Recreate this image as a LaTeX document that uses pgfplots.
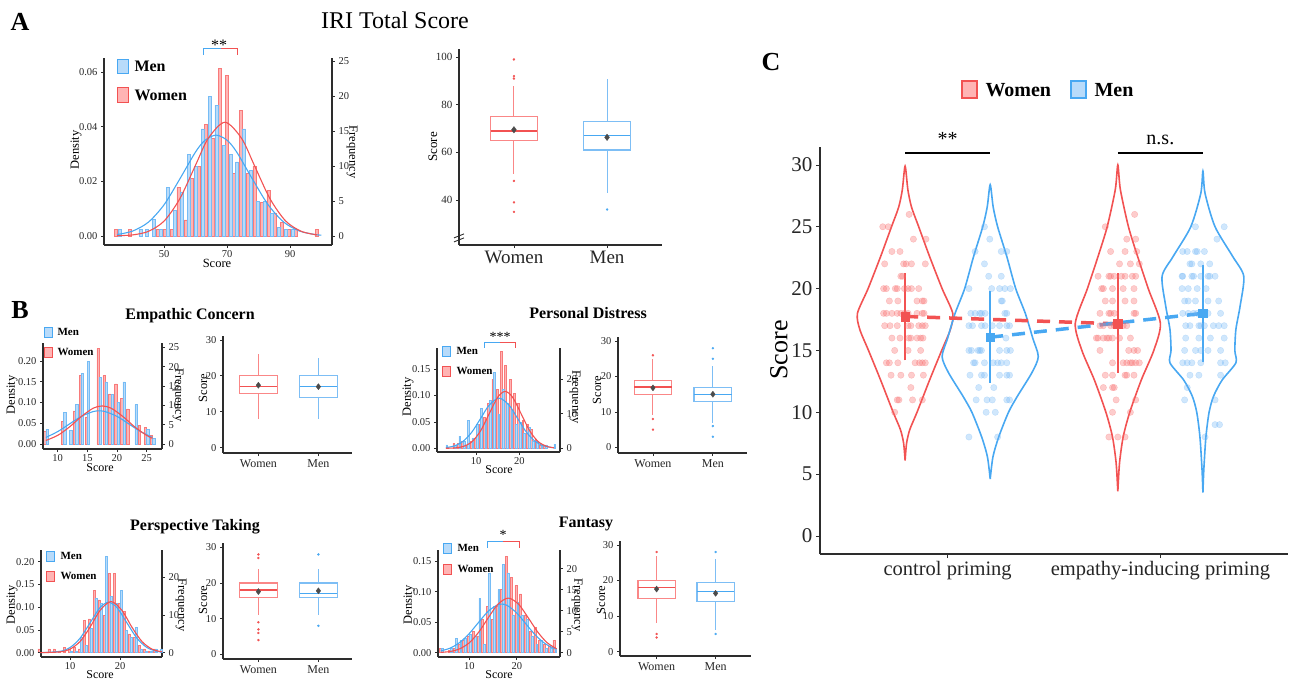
\documentclass[border=0pt]{standalone}
\usepackage{fontspec}
\setmainfont{Liberation Serif}
\usepackage{pgfplots}
\pgfplotsset{compat=1.18}

\definecolor{redL}{RGB}{242,82,82}
\definecolor{bluL}{RGB}{72,168,242}
\definecolor{redF}{RGB}{255,180,180}
\definecolor{bluF}{RGB}{184,219,250}
\definecolor{redE}{RGB}{248,122,122}
\definecolor{bluE}{RGB}{118,188,245}
\definecolor{redB}{RGB}{250,135,135}
\definecolor{bluB}{RGB}{125,190,245}
\definecolor{redD}{RGB}{248,110,110}
\definecolor{bluD}{RGB}{110,180,245}
\definecolor{axgray}{RGB}{45,45,45}
\definecolor{meangray}{RGB}{75,75,75}

\newcommand\fs[1]{\fontsize{#1}{#1}\selectfont}

\pgfplotsset{
  base/.style={scale only axis, anchor=south west, clip=false,
    axis line style={line width=1.1pt, draw=axgray},
    tick style={line width=0.8pt, draw=axgray},
    tick align=outside, major tick length=3pt,
    /pgf/number format/assume math mode=true, scaled ticks=false,
    tick label style={text=black!85}},
  histR/.style={base, axis x line=none, axis y line*=right, xtick=\empty,
    tick label style={font=\fs{10.5}}},
  histL/.style={base, axis x line*=bottom, axis y line*=left,
    tick label style={font=\fs{10.5}},
    xticklabel style={yshift=1pt},
    yticklabel style={/pgf/number format/.cd, fixed, fixed zerofill, precision=2}},
  boxax/.style={base, axis x line*=bottom, axis y line*=left,
    xtick={1,2}, xticklabels={Women,Men}},
  rbar/.style={ybar, bar shift=0pt, fill=redF, draw=redE, line width=0.5pt},
  bbar/.style={ybar, bar shift=0pt, fill=bluF, draw=bluE, line width=0.5pt},
  rcur/.style={redL, line width=1.1pt, smooth, no marks},
  bcur/.style={bluL, line width=1.1pt, smooth, no marks},
  rbox/.style={redB, line width=1.1pt, no marks, line join=miter},
  bbox/.style={bluB, line width=1.1pt, no marks, line join=miter},
  rmed/.style={redL, line width=1.4pt, no marks},
  bmed/.style={bluL, line width=1.4pt, no marks},
  rout/.style={only marks, redL, mark=*, mark size=1pt, mark options={draw=redL, fill=redL}},
  bout/.style={only marks, bluL, mark=*, mark size=1pt, mark options={draw=bluL, fill=bluL}},
  meanpt/.style={only marks, meangray, mark=diamond*, mark size=3.2pt, mark options={draw=meangray, fill=meangray}},
}

% box: #1 r/b, #2 left, #3 centre, #4 right, #5 lower whisker, #6 Q1, #7 median, #8 Q3, #9 upper whisker
\newcommand\bxp[9]{%
  \addplot[#1box] coordinates {(#2,#6) (#4,#6) (#4,#8) (#2,#8) (#2,#6) (#4,#6)};
  \addplot[#1box] coordinates {(#3,#8) (#3,#9)};
  \addplot[#1box] coordinates {(#3,#6) (#3,#5)};
  \addplot[#1med] coordinates {(#2,#7) (#4,#7)};
}

\begin{document}
\begin{tikzpicture}

% ================= A : histogram
\begin{axis}[histR, at={(104pt,-245pt)}, width=228pt, height=187pt,
  xmin=30.86, xmax=103.35, ymin=-1.286, ymax=25.43, ytick={0,5,10,15,20,25}]
\addplot[rbar, bar width=0.95] coordinates {(34.7,1) (39.1,1) (47.9,1) (50.1,1) (52.3,1) (54.5,7) (56.7,2.3) (58.9,8.2) (61.1,10) (63.3,16) (65.5,14) (67.7,24) (69.9,23) (72.1,9) (74.3,18) (76.5,9) (78.7,10) (80.9,4.8) (83.1,6.5) (85.3,3.2) (87.5,2) (89.7,1) (91.9,1) (98.5,1)};
\addplot[bbar, bar width=0.95] coordinates {(35.8,1) (42.4,1) (44.6,1) (46.8,2.4) (49.0,1) (51.2,7) (53.4,3.7) (55.6,6.3) (57.8,11.7) (60.0,10) (62.2,15.3) (64.4,20) (66.6,18.7) (68.8,13) (71.0,11.7) (73.2,10.6) (75.4,15.3) (77.6,9.4) (79.8,5) (82.0,5) (84.2,3.2) (86.4,1.2) (88.6,1) (90.8,1)};
\end{axis}
\begin{axis}[histL, at={(104pt,-245pt)}, width=228pt, height=187pt,
  xmin=30.86, xmax=103.35, ymin=-0.0033, ymax=0.0651,
  xtick={50,70,90}, ytick={0,0.02,0.04,0.06}]
\addplot[bcur] coordinates {(35,0.00052) (40,0.00182) (45,0.00508) (50,0.01149) (55,0.02093) (60,0.03079) (63,0.03501) (66.5,0.0369) (70,0.03501) (73,0.03079) (78,0.02093) (83,0.01149) (88,0.00508) (93,0.00182) (98,0.00052) (100,0.0003)};
\addplot[rcur] coordinates {(35,0.0001) (40,0.0004) (45,0.0017) (50,0.0055) (55,0.0137) (60,0.0260) (64,0.0357) (69.3,0.0416) (74.6,0.0357) (78.6,0.0260) (83.6,0.0137) (88.6,0.0055) (93.6,0.0017) (98.6,0.0004)};
\draw[bluL, line width=1pt] (axis cs:67.9,0.0684) -- (axis cs:62.5,0.0684) -- (axis cs:62.5,0.0662);
\draw[redL, line width=1pt] (axis cs:67.9,0.0684) -- (axis cs:73.3,0.0684) -- (axis cs:73.3,0.0662);
\end{axis}

% ================= A : boxplot
\begin{axis}[boxax, at={(459pt,-245pt)}, width=203pt, height=196pt,
  xmin=0.41, xmax=2.59, ymin=21.1, ymax=103.4, ytick={40,60,80,100},
  y tick label style={font=\fs{11}}, x tick label style={font=\fs{19}}]
\bxp{r}{0.75}{1}{1.25}{51}{65}{69}{75}{88}
\addplot[rout] coordinates {(1,91) (1,92) (1,99) (1,48) (1,39) (1,35)};
\bxp{b}{1.75}{2}{2.25}{43}{61}{67}{73}{91}
\addplot[bout] coordinates {(2,36)};
\addplot[meanpt] coordinates {(1,69.5) (2,66.3)};
\draw[axgray, line width=0.9pt] ([xshift=-5pt,yshift=-5pt]axis cs:0.41,24.5) -- ([xshift=5pt,yshift=-1pt]axis cs:0.41,24.5);
\draw[axgray, line width=0.9pt] ([xshift=-5pt,yshift=-1pt]axis cs:0.41,24.5) -- ([xshift=5pt,yshift=3pt]axis cs:0.41,24.5);
\end{axis}

% ================= B1 : Empathic Concern
\begin{axis}[histR, at={(43pt,-449pt)}, width=119pt, height=106pt,
  xmin=7.52, xmax=27.6, ymin=-1.295, ymax=26.17, ytick={0,5,10,15,20,25}]
\addplot[rbar, bar width=0.38] coordinates {(7.8,3.2) (10.8,5.9) (12.8,8.6) (13.8,17.7) (14.8,7) (16.8,24.7) (17.8,17.7) (18.8,13) (19.8,15.6) (20.8,11.8) (21.8,9.1) (23.8,4.8) (24.8,4.3) (25.8,2.2)};
\addplot[bbar, bar width=0.38] coordinates {(8.2,3.8) (11.2,8.1) (12.2,3.5) (13.2,10.2) (14.2,18.3) (15.2,21.5) (17.2,17.2) (18.2,16.1) (19.2,12.9) (20.2,10.75) (21.2,16.1) (23.2,10.2) (25.2,3.8) (26.2,1.5)};
\end{axis}
\begin{axis}[histL, at={(43pt,-449pt)}, width=119pt, height=106pt,
  xmin=7.52, xmax=27.6, ymin=-0.01205, ymax=0.2434,
  xtick={10,15,20,25}, ytick={0,0.05,0.10,0.15,0.20}]
\addplot[bcur] coordinates {(8,0.0158) (10,0.0299) (12,0.0484) (14,0.0667) (16,0.0782) (17,0.0798) (18,0.0782) (20,0.0667) (22,0.0484) (24,0.0299) (26,0.0158)};
\addplot[rcur] coordinates {(8,0.0085) (10,0.0208) (12,0.0412) (14,0.0663) (16,0.0864) (17.5,0.0917) (19,0.0864) (21,0.0663) (23,0.0412) (25,0.0208) (26,0.0136)};
\end{axis}
\begin{axis}[boxax, at={(223pt,-453pt)}, width=129pt, height=117pt,
  xmin=0.41, xmax=2.56, ymin=-1.48, ymax=31.1, ytick={0,10,20,30},
  y tick label style={font=\fs{10.5}}, x tick label style={font=\fs{12}}]
\bxp{r}{0.685}{1}{1.315}{8}{15}{17}{20}{26}
\bxp{b}{1.685}{2}{2.315}{8}{14}{17}{20}{25}
\addplot[meanpt, mark size=3pt] coordinates {(1,17.4) (2,17.0)};
\end{axis}

% ================= B2 : Personal Distress
\begin{axis}[histR, at={(437pt,-452pt)}, width=123pt, height=104pt,
  xmin=0.92, xmax=29.4, ymin=-1.07, ymax=29.07, ytick={0,10,20}]
\addplot[rbar, bar width=0.4] coordinates {(4.8,1.5) (5.8,1.5) (6.8,2) (7.8,1) (8.8,2) (9.8,3) (10.8,7) (11.8,9) (12.8,13) (13.8,20) (14.8,17) (15.8,28) (16.8,24) (17.8,20) (18.8,16) (19.8,13) (20.8,8) (21.8,7) (22.8,5.5) (23.8,2.5) (24.8,1) (25.8,1)};
\addplot[bbar, bar width=0.4] coordinates {(3.2,1) (5.2,1) (6.2,3.5) (7.2,2) (8.2,8) (9.2,3) (10.2,7) (11.2,11.5) (12.2,8) (13.2,14) (14.2,22) (15.2,10) (16.2,17) (17.2,13) (18.2,11) (19.2,7) (20.2,7.5) (21.2,4.5) (22.2,6) (23.2,2) (24.2,2) (25.2,1) (26.2,1) (28.2,1.2)};
\end{axis}
\begin{axis}[histL, at={(437pt,-452pt)}, width=123pt, height=104pt,
  xmin=0.92, xmax=29.4, ymin=-0.007, ymax=0.19,
  xtick={10,20}, ytick={0,0.05,0.10,0.15}]
\addplot[bcur] coordinates {(3,0.0013) (5,0.0047) (7,0.0135) (9,0.0308) (11,0.0563) (13,0.0818) (15.3,0.095) (17.6,0.0818) (19.6,0.0563) (21.6,0.0308) (23.6,0.0135) (25.6,0.0047) (28,0.001)};
\addplot[rcur] coordinates {(3,0.0001) (5,0.0007) (7,0.0035) (9,0.0124) (11,0.0329) (13,0.0654) (15,0.097) (16.7,0.1078) (18.4,0.097) (20.4,0.0654) (22.4,0.0329) (24.4,0.0124) (26.4,0.0035) (28,0.001)};
\draw[bluL, line width=1pt] (axis cs:15.4,0.2007) -- (axis cs:11.85,0.2007) -- (axis cs:11.85,0.19);
\draw[redL, line width=1pt] (axis cs:15.4,0.2007) -- (axis cs:19.0,0.2007) -- (axis cs:19.0,0.19);
\end{axis}
\begin{axis}[boxax, at={(618pt,-453pt)}, width=129pt, height=116pt,
  xmin=0.417, xmax=2.57, ymin=-1.6, ymax=31.16, ytick={0,10,20,30},
  y tick label style={font=\fs{10.5}}, x tick label style={font=\fs{12}}]
\bxp{r}{0.685}{1}{1.315}{9}{15}{17}{19}{25}
\addplot[rout] coordinates {(1,26) (1,8) (1,5)};
\bxp{b}{1.685}{2}{2.315}{7}{13}{15}{17}{23}
\addplot[bout] coordinates {(2,25) (2,28) (2,6) (2,3)};
\addplot[meanpt, mark size=3pt] coordinates {(1,16.8) (2,15.0)};
\end{axis}

% ================= B3 : Perspective Taking
\begin{axis}[histR, at={(41pt,-657pt)}, width=121pt, height=107pt,
  xmin=4.2, xmax=28.4, ymin=-1.14, ymax=27.24, ytick={0,10,20}]
\addplot[rbar, bar width=0.4] coordinates {(3.8,1) (5.8,1) (6.8,1) (7.8,0.5) (8.8,1.5) (9.8,1) (10.8,1.5) (11.8,1) (12.8,8.5) (13.8,9) (14.8,16.5) (15.8,14) (16.8,10) (17.8,21) (18.8,21) (19.8,13) (20.8,11) (21.8,5) (22.8,4) (23.8,2) (24.8,1) (25.8,0.5) (26.8,1)};
\addplot[bbar, bar width=0.4] coordinates {(10.2,0.5) (11.2,0.5) (12.2,4) (13.2,2) (14.2,6.5) (15.2,14.5) (16.2,13) (17.2,25.5) (18.2,15) (19.2,13) (20.2,16.5) (21.2,6) (22.2,4) (23.2,6.7) (24.2,1) (25.2,0.5) (26.2,0.5) (27.2,1) (28.2,1)};
\end{axis}
\begin{axis}[histL, at={(41pt,-657pt)}, width=121pt, height=107pt,
  xmin=4.2, xmax=28.4, ymin=-0.0095, ymax=0.2257,
  xtick={10,20}, ytick={0,0.05,0.10,0.15,0.20}]
\addplot[bcur] coordinates {(4,0.0001) (8,0.0029) (10,0.0112) (12,0.0316) (14,0.0653) (16,0.0991) (17.7,0.1108) (19.4,0.0991) (21.4,0.0653) (23.4,0.0316) (25.4,0.0112) (27.4,0.0029) (28.5,0.0012)};
\addplot[rcur] coordinates {(4,0.0000) (8,0.0018) (10,0.0078) (12,0.0245) (14,0.0558) (16,0.0928) (18.2,0.1124) (20.4,0.0928) (22.4,0.0558) (24.4,0.0245) (26.4,0.0078) (28.4,0.0018)};
\end{axis}
\begin{axis}[boxax, at={(223pt,-659pt)}, width=129pt, height=116pt,
  xmin=0.41, xmax=2.56, ymin=-1.3, ymax=31.2, ytick={0,10,20,30},
  y tick label style={font=\fs{10.5}}, x tick label style={font=\fs{12}}]
\bxp{r}{0.685}{1}{1.315}{11}{16}{18}{20}{24}
\addplot[rout] coordinates {(1,27) (1,28) (1,9) (1,7) (1,6) (1,4)};
\bxp{b}{1.685}{2}{2.315}{11}{16}{17}{20}{24}
\addplot[bout] coordinates {(2,28) (2,8)};
\addplot[meanpt, mark size=3pt] coordinates {(1,17.6) (2,17.8)};
\end{axis}

% ================= B4 : Fantasy
\begin{axis}[histR, at={(438pt,-657pt)}, width=122pt, height=107pt,
  xmin=3.4, xmax=29.1, ymin=-1.02, ymax=24.45, ytick={0,5,10,15,20}]
\addplot[rbar, bar width=0.4] coordinates {(3.8,1) (5.8,0.5) (6.8,1) (7.8,2) (8.8,3) (9.8,4) (10.8,5) (11.8,4) (12.8,8) (13.8,11) (14.8,8) (15.8,11) (16.8,15) (17.8,23) (18.8,18) (19.8,16) (20.8,14) (21.8,9) (22.8,5) (23.8,6) (24.8,3) (25.8,2) (26.8,1.5) (27.8,3)};
\addplot[bbar, bar width=0.4] coordinates {(4.2,1) (6.2,1) (7.2,3.5) (8.2,3) (9.2,3.5) (10.2,4.5) (11.2,4) (12.2,13) (13.2,2) (14.2,19) (15.2,11) (16.2,15) (17.2,21) (18.2,19) (19.2,9) (20.2,12) (21.2,9) (22.2,8) (23.2,4) (24.2,2) (25.2,3) (26.2,1) (27.2,1) (28.2,1)};
\end{axis}
\begin{axis}[histL, at={(438pt,-657pt)}, width=122pt, height=107pt,
  xmin=3.4, xmax=29.1, ymin=-0.007, ymax=0.1684,
  xtick={10,20}, ytick={0,0.05,0.10,0.15}]
\addplot[bcur] coordinates {(4,0.0030) (6,0.0077) (8,0.0170) (10,0.0316) (12,0.0503) (14,0.0682) (16,0.0788) (16.8,0.0798) (18,0.0775) (20,0.0650) (22,0.0465) (24,0.0283) (26,0.0147) (28,0.0065)};
\addplot[rcur] coordinates {(4,0.0006) (6,0.0021) (8,0.0065) (10,0.0164) (12,0.0340) (14,0.0574) (16,0.0793) (18.2,0.0896) (20.4,0.0793) (22.4,0.0574) (24.4,0.0340) (26.4,0.0164) (28.4,0.0065)};
\draw[bluL, line width=1pt] (axis cs:17.15,0.183) -- (axis cs:13.8,0.183) -- (axis cs:13.8,0.172);
\draw[redL, line width=1pt] (axis cs:17.15,0.183) -- (axis cs:20.5,0.183) -- (axis cs:20.5,0.172);
\end{axis}
\begin{axis}[boxax, at={(620pt,-656pt)}, width=131pt, height=115pt,
  xmin=0.38, xmax=2.6, ymin=-1.2, ymax=31.1, ytick={0,10,20,30},
  y tick label style={font=\fs{10.5}}, x tick label style={font=\fs{12}}]
\bxp{r}{0.685}{1}{1.315}{8}{15}{18}{20}{27}
\addplot[rout] coordinates {(1,28) (1,5) (1,4)};
\bxp{b}{1.685}{2}{2.315}{6}{14}{17}{19.5}{26}
\addplot[bout] coordinates {(2,28) (2,5)};
\addplot[meanpt, mark size=3pt] coordinates {(1,17.6) (2,16.4)};
\end{axis}

% ================= C : violins
\begin{axis}[base, at={(820pt,-554pt)}, width=468pt, height=407pt,
  xmin=0.4, xmax=2.6, ymin=-1.46, ymax=31.45,
  axis x line*=bottom, axis y line*=left, axis line style={line width=1.4pt},
  major tick length=4pt, xtick={1,2},
  xticklabels={control priming, empathy-inducing priming}, ytick={0,5,10,15,20,25,30},
  x tick label style={font=\fs{20.5}}, y tick label style={font=\fs{21}}]
% jittered points
\addplot[only marks, redD, opacity=0.35, mark=*, mark size=3.2pt, mark options={draw=redD, fill=redD}] coordinates {(0.819,26) (0.695,25) (0.721,25) (0.839,24) (0.898,24) (0.738,23) (0.776,23) (0.704,22) (0.793,22) (0.805,22) (0.830,22) (0.895,22) (0.780,21) (0.788,21) (0.699,20) (0.712,20) (0.754,20) (0.763,20) (0.797,20) (0.814,20) (0.830,20) (0.864,20) (0.726,19) (0.766,19) (0.856,19) (0.881,19) (0.889,19) (0.699,18) (0.712,18) (0.738,18) (0.763,18) (0.780,18) (0.797,18) (0.814,18) (0.856,18) (0.881,18) (0.889,18) (0.704,17) (0.729,17) (0.763,17) (0.814,17) (0.827,17) (0.864,17) (0.881,17) (0.895,17) (0.738,16) (0.776,16) (0.817,16) (0.827,16) (0.856,16) (0.873,16) (0.884,16) (0.751,15) (0.814,15) (0.873,15) (0.712,14) (0.726,14) (0.766,14) (0.847,14) (0.868,14) (0.881,14) (0.895,14) (0.734,13) (0.780,13) (0.830,13) (0.886,13) (0.827,12) (0.763,11) (0.771,11) (0.835,11) (0.881,11) (0.751,10)
(1.879,26) (1.741,25) (1.842,24) (1.884,24) (1.766,23) (1.834,23) (1.889,23) (1.808,22) (1.859,22) (1.901,22) (1.707,21) (1.758,21) (1.766,21) (1.783,21) (1.817,21) (1.834,21) (1.868,21) (1.884,21) (1.724,20) (1.732,20) (1.775,20) (1.825,20) (1.876,20) (1.741,19) (1.775,19) (1.834,19) (1.876,19) (1.716,18) (1.758,18) (1.766,18) (1.783,18) (1.876,18) (1.884,18) (1.716,17) (1.732,17) (1.766,17) (1.783,17) (1.825,17) (1.842,17) (1.699,16) (1.707,16) (1.732,16) (1.749,16) (1.758,16) (1.775,16) (1.808,16) (1.859,16) (1.716,15) (1.851,15) (1.876,15) (1.893,15) (1.775,14) (1.825,14) (1.842,14) (1.859,14) (1.868,14) (1.884,14) (1.901,14) (1.741,13) (1.775,13) (1.834,13) (1.842,13) (1.876,13) (1.732,12) (1.775,12) (1.783,12) (1.792,11) (1.884,11) (1.775,10) (1.859,10) (1.758,8) (1.800,8) (1.834,8)};
\addplot[only marks, bluD, opacity=0.32, mark=*, mark size=3.2pt, mark options={draw=bluD, fill=bluD}] coordinates {(1.173,25) (1.198,24) (1.129,23) (1.252,23) (1.278,23) (1.173,22) (1.193,21) (1.252,21) (1.100,20) (1.207,20) (1.244,20) (1.269,20) (1.295,20) (1.252,19) (1.257,19) (1.109,18) (1.129,18) (1.151,18) (1.159,18) (1.176,18) (1.269,18) (1.278,18) (1.100,17) (1.117,17) (1.159,17) (1.176,17) (1.210,17) (1.244,17) (1.278,17) (1.291,17) (1.202,16) (1.274,16) (1.100,15) (1.112,15) (1.143,15) (1.151,15) (1.159,15) (1.244,15) (1.278,15) (1.295,15) (1.122,14) (1.129,14) (1.173,14) (1.214,14) (1.235,14) (1.252,14) (1.278,14) (1.105,13) (1.159,13) (1.173,13) (1.244,13) (1.278,13) (1.291,13) (1.146,12) (1.217,12) (1.134,11) (1.185,11) (1.210,11) (1.278,11) (1.291,11) (1.181,10) (1.224,10) (1.100,8) (1.235,8)
(2.165,25) (2.300,25) (2.266,24) (2.105,23) (2.126,23) (2.165,23) (2.173,23) (2.207,23) (2.139,22) (2.148,22) (2.190,22) (2.232,22) (2.102,21) (2.105,21) (2.148,21) (2.156,21) (2.190,21) (2.224,21) (2.232,21) (2.257,21) (2.102,20) (2.131,20) (2.173,20) (2.215,20) (2.114,19) (2.131,19) (2.165,19) (2.224,19) (2.274,19) (2.105,18) (2.131,18) (2.156,18) (2.173,18) (2.224,18) (2.283,18) (2.119,17) (2.139,17) (2.181,17) (2.190,17) (2.207,17) (2.249,17) (2.274,17) (2.300,17) (2.119,16) (2.181,16) (2.235,16) (2.300,16) (2.114,15) (2.165,15) (2.190,15) (2.224,15) (2.283,15) (2.105,14) (2.126,14) (2.148,14) (2.190,14) (2.283,14) (2.305,14) (2.139,13) (2.181,13) (2.283,13) (2.126,12) (2.114,11) (2.257,11) (2.257,9) (2.278,9) (2.210,8)};
% violin outlines
\addplot[redL, line width=1.6pt, smooth, tension=0.45] coordinates {(0.800,6.1) (0.807,7.5) (0.822,8.6) (0.856,10.0) (0.915,12.6) (0.972,15.0) (1.013,16.7) (1.024,18.0) (0.974,20.0) (0.915,22.6) (0.864,25.0) (0.830,26.6) (0.813,28.0) (0.800,29.9) (0.787,28.0) (0.770,26.6) (0.736,25.0) (0.685,22.6) (0.626,20.0) (0.576,18.0) (0.587,16.7) (0.628,15.0) (0.685,12.6) (0.744,10.0) (0.778,8.6) (0.793,7.5) (0.800,6.1)};
\addplot[bluL, line width=1.6pt, smooth, tension=0.45] coordinates {(1.200,4.6) (1.213,6.4) (1.240,8.0) (1.286,10.0) (1.328,11.3) (1.396,13.2) (1.426,14.5) (1.400,16.0) (1.365,18.0) (1.320,20.0) (1.278,22.6) (1.235,25.0) (1.214,26.6) (1.200,28.4) (1.186,26.6) (1.165,25.0) (1.122,22.6) (1.080,20.0) (1.035,18.0) (1.000,16.0) (0.974,14.5) (1.004,13.2) (1.072,11.3) (1.114,10.0) (1.160,8.0) (1.187,6.4) (1.200,4.6)};
\addplot[redL, line width=1.6pt, smooth, tension=0.45] coordinates {(1.800,3.6) (1.808,5.9) (1.825,8.0) (1.856,10.0) (1.910,12.6) (1.969,15.0) (2.000,17.2) (1.943,20.0) (1.893,22.6) (1.850,25.0) (1.812,28.0) (1.800,30.0) (1.788,28.0) (1.750,25.0) (1.707,22.6) (1.657,20.0) (1.600,17.2) (1.631,15.0) (1.690,12.6) (1.744,10.0) (1.775,8.0) (1.792,5.9) (1.800,3.6)};
\addplot[bluL, line width=1.6pt, smooth, tension=0.45] coordinates {(2.200,3.5) (2.204,5.3) (2.214,8.0) (2.229,10.0) (2.250,11.3) (2.290,12.6) (2.355,14.0) (2.350,15.0) (2.355,16.7) (2.375,18.6) (2.392,21.0) (2.340,22.6) (2.257,25.0) (2.210,27.7) (2.200,29.5) (2.190,27.7) (2.143,25.0) (2.060,22.6) (2.008,21.0) (2.025,18.6) (2.045,16.7) (2.050,15.0) (2.045,14.0) (2.110,12.6) (2.150,11.3) (2.171,10.0) (2.186,8.0) (2.196,5.3) (2.200,3.5)};
% mean +- SD
\addplot[redL, line width=2pt] coordinates {(0.8,14.2) (0.8,21.25)};
\addplot[bluL, line width=2pt] coordinates {(1.2,12.4) (1.2,19.77)};
\addplot[redL, line width=2pt] coordinates {(1.8,13.2) (1.8,21.25)};
\addplot[bluL, line width=2pt] coordinates {(2.2,14.05) (2.2,21.9)};
\addplot[redL, line width=3.5pt, dash pattern=on 13pt off 9pt] coordinates {(0.8,17.75) (1.8,17.15)};
\addplot[bluL, line width=3.5pt, dash pattern=on 13pt off 9pt] coordinates {(1.2,16.07) (2.2,18.0)};
\addplot[only marks, redL, mark=square*, mark size=4.3pt, mark options={draw=redL, fill=redL}] coordinates {(0.8,17.75) (1.8,17.15)};
\addplot[only marks, bluL, mark=square*, mark size=4.3pt, mark options={draw=bluL, fill=bluL}] coordinates {(1.2,16.07) (2.2,18.0)};
% significance
\draw[black, line width=1.4pt] (axis cs:0.8,30.96) -- (axis cs:1.2,30.96);
\draw[black, line width=1.4pt] (axis cs:1.8,30.96) -- (axis cs:2.2,30.96);
\node[font=\fs{20}] at (axis cs:1,32.1) {**};
\node[font=\fs{20}] at (axis cs:2,32.0) {n.s.};
\end{axis}

% ================= text: titles, labels, legends
\node[font=\bfseries\fs{26}] at (20pt,-22pt) {A};
\node[font=\bfseries\fs{26}] at (20pt,-310pt) {B};
\node[font=\bfseries\fs{26}] at (771pt,-62pt) {C};
\node[font=\fs{24}] at (395pt,-20pt) {IRI Total Score};

% A labels
\node[font=\fs{16}] at (219pt,-45pt) {**};
\node[font=\fs{12.5}, rotate=90] at (76pt,-150pt) {Density};
\node[font=\fs{12.5}, rotate=-90] at (352pt,-152pt) {Frequency};
\node[font=\fs{12.5}] at (217pt,-263pt) {Score};
\node[font=\fs{13}, rotate=90] at (433pt,-147pt) {Score};
\draw[bluL, fill=bluF, line width=1pt] (117pt,-59pt) rectangle (128pt,-73pt);
\node[anchor=west, font=\bfseries\fs{16}] at (131pt,-66pt) {Men};
\draw[redL, fill=redF, line width=1pt] (117pt,-87pt) rectangle (128pt,-102pt);
\node[anchor=west, font=\bfseries\fs{16}] at (131pt,-95pt) {Women};

% B1
\node[font=\bfseries\fs{16}] at (190pt,-316pt) {Empathic Concern};
\node[font=\fs{12.5}, rotate=90] at (12pt,-395pt) {Density};
\node[font=\fs{12.5}, rotate=-90] at (178pt,-395pt) {Frequency};
\node[font=\fs{12}] at (100pt,-468pt) {Score};
\node[font=\fs{12.5}, rotate=90] at (203pt,-388pt) {Score};
\draw[bluL, fill=bluF, line width=0.8pt] (44pt,-327pt) rectangle (52pt,-337pt);
\node[anchor=west, font=\bfseries\fs{11}] at (54pt,-332pt) {Men};
\draw[redL, fill=redF, line width=0.8pt] (44pt,-347pt) rectangle (52pt,-357pt);
\node[anchor=west, font=\bfseries\fs{11}] at (54pt,-352pt) {Women};

% B2
\node[font=\bfseries\fs{16}] at (588pt,-313pt) {Personal Distress};
\node[font=\fs{14}] at (500pt,-337pt) {***};
\node[font=\fs{12.5}, rotate=90] at (408pt,-397pt) {Density};
\node[font=\fs{12.5}, rotate=-90] at (575pt,-397pt) {Frequency};
\node[font=\fs{12}] at (499pt,-470pt) {Score};
\node[font=\fs{12.5}, rotate=90] at (597pt,-390pt) {Score};
\draw[bluL, fill=bluF, line width=0.8pt] (442.5pt,-346pt) rectangle (450.5pt,-356pt);
\node[anchor=west, font=\bfseries\fs{11}] at (453pt,-351pt) {Men};
\draw[redL, fill=redF, line width=0.8pt] (442.5pt,-366pt) rectangle (450.5pt,-376pt);
\node[anchor=west, font=\bfseries\fs{11}] at (453pt,-371pt) {Women};

% B3
\node[font=\bfseries\fs{16}] at (195pt,-527pt) {Perspective Taking};
\node[font=\fs{12.5}, rotate=90] at (12pt,-605pt) {Density};
\node[font=\fs{12.5}, rotate=-90] at (181pt,-605pt) {Frequency};
\node[font=\fs{12}] at (100pt,-675pt) {Score};
\node[font=\fs{12.5}, rotate=90] at (203pt,-600pt) {Score};
\draw[bluL, fill=bluF, line width=0.8pt] (46.5pt,-551pt) rectangle (54.5pt,-561pt);
\node[anchor=west, font=\bfseries\fs{11}] at (57pt,-556pt) {Men};
\draw[redL, fill=redF, line width=0.8pt] (46.5pt,-571pt) rectangle (54.5pt,-581pt);
\node[anchor=west, font=\bfseries\fs{11}] at (57pt,-576pt) {Women};

% B4
\node[font=\bfseries\fs{16}] at (586pt,-524pt) {Fantasy};
\node[font=\fs{14}] at (503pt,-535pt) {*};
\node[font=\fs{12.5}, rotate=90] at (409pt,-605pt) {Density};
\node[font=\fs{12.5}, rotate=-90] at (577pt,-605pt) {Frequency};
\node[font=\fs{12}] at (499pt,-675pt) {Score};
\node[font=\fs{12.5}, rotate=90] at (601pt,-600pt) {Score};
\draw[bluL, fill=bluF, line width=0.8pt] (443.5pt,-543pt) rectangle (451.5pt,-553pt);
\node[anchor=west, font=\bfseries\fs{11}] at (454pt,-548pt) {Men};
\draw[redL, fill=redF, line width=0.8pt] (443.5pt,-564pt) rectangle (451.5pt,-574pt);
\node[anchor=west, font=\bfseries\fs{11}] at (454pt,-569pt) {Women};

% C labels and legend
\node[font=\fs{26}, rotate=90] at (779pt,-350pt) {Score};
\draw[redL, fill=redF, line width=1.3pt] (962pt,-81pt) rectangle (977pt,-98pt);
\node[anchor=west, font=\bfseries\fs{20}] at (982pt,-90pt) {Women};
\draw[bluL, fill=bluF, line width=1.3pt] (1071pt,-81pt) rectangle (1086pt,-98pt);
\node[anchor=west, font=\bfseries\fs{20}] at (1091pt,-90pt) {Men};

\pgfresetboundingbox
\path (0pt,0pt) rectangle (1297pt,-683pt);
\end{tikzpicture}
\end{document}
